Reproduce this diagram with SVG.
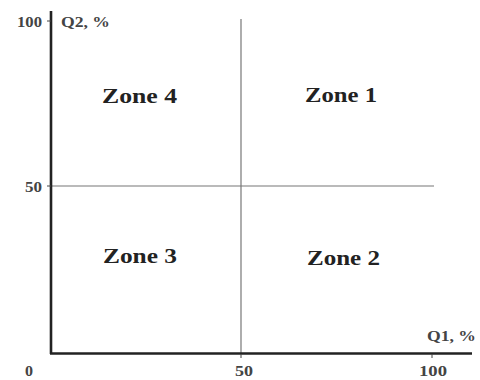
<svg xmlns="http://www.w3.org/2000/svg" width="480" height="380" viewBox="0 0 480 380">
<style>
.ax{stroke:#222;stroke-width:2.6;fill:none}
.ln{stroke:#777;stroke-width:1.2;fill:none}
.tk{stroke:#444;stroke-width:1}
.s{font-family:"Liberation Serif",serif;font-size:14px;font-weight:bold;fill:#444}
.z{font-family:"Liberation Serif",serif;font-size:21px;font-weight:bold;fill:#222}
</style>
<rect width="480" height="380" fill="#fff"/>
<g id="connectors">
<line class="ln" x1="241" y1="19" x2="241" y2="354"/>
<line class="ln" x1="51" y1="186" x2="434" y2="186"/>
<line class="ax" x1="51" y1="11" x2="51" y2="354"/>
<line class="ax" x1="50" y1="353.5" x2="472" y2="353.5"/>
<line class="tk" x1="47" y1="21" x2="51" y2="21"/>
<line class="tk" x1="47" y1="186" x2="51" y2="186"/>
<line class="tk" x1="241" y1="354" x2="241" y2="358"/>
<line class="tk" x1="432" y1="354" x2="432" y2="358"/>
</g>
<g id="axis-labels">
<text class="s" x="17" y="27" textLength="25" lengthAdjust="spacingAndGlyphs">100</text>
<text class="s" x="61" y="27" textLength="49" lengthAdjust="spacingAndGlyphs">Q2, %</text>
<text class="s" x="25" y="192" textLength="17" lengthAdjust="spacingAndGlyphs">50</text>
<text class="s" x="25" y="376" textLength="8" lengthAdjust="spacingAndGlyphs">0</text>
<text class="s" x="235" y="376" textLength="18" lengthAdjust="spacingAndGlyphs">50</text>
<text class="s" x="419" y="376" textLength="28" lengthAdjust="spacingAndGlyphs">100</text>
<text class="s" x="427" y="341" textLength="49" lengthAdjust="spacingAndGlyphs">Q1, %</text>
</g>
<g id="zone4"><text class="z" x="102" y="103" textLength="75" lengthAdjust="spacingAndGlyphs">Zone 4</text></g>
<g id="zone1"><text class="z" x="305" y="102" textLength="72" lengthAdjust="spacingAndGlyphs">Zone 1</text></g>
<g id="zone3"><text class="z" x="103" y="263" textLength="74" lengthAdjust="spacingAndGlyphs">Zone 3</text></g>
<g id="zone2"><text class="z" x="307" y="265" textLength="73" lengthAdjust="spacingAndGlyphs">Zone 2</text></g>
</svg>
